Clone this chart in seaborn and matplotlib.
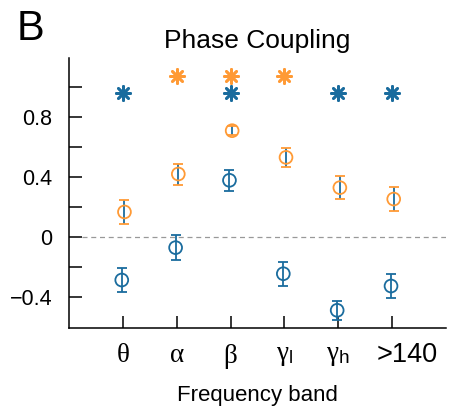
import numpy as np
import pandas as pd
import matplotlib
matplotlib.use('Agg')
import matplotlib.pyplot as plt
import matplotlib.transforms as mtransforms
import seaborn as sns

bands = [r'$\mathrm{\theta}$', r'$\mathrm{\alpha}$', r'$\mathrm{\beta}$',
         r'$\mathrm{\gamma}_{\mathsf{l}}$', r'$\mathrm{\gamma}_{\mathsf{h}}$', '>140']

blue_mean = [-0.287, -0.071, 0.378, -0.245, -0.489, -0.327]
blue_err = [0.077, 0.083, 0.072, 0.079, 0.064, 0.077]
orange_mean = [0.167, 0.420, 0.709, 0.531, 0.329, 0.253]
orange_err = [0.081, 0.070, 0.030, 0.062, 0.077, 0.081]

# significance flags drawn as asterisks above the data
blue_sig = [True, False, True, False, True, True]
orange_sig = [False, True, True, True, False, False]
blue_star_y = 0.958
orange_star_y = 1.073

blue = '#1a6c9e'
orange = '#ff9a35'

sns.set_style('ticks')
plt.rcParams['font.family'] = ['Liberation Sans', 'DejaVu Sans']
plt.rcParams['mathtext.fontset'] = 'custom'
plt.rcParams['mathtext.rm'] = 'Liberation Serif'
plt.rcParams['mathtext.it'] = 'Liberation Serif:italic'
plt.rcParams['mathtext.sf'] = 'Liberation Sans'
for k in ['text.color', 'axes.labelcolor', 'xtick.color', 'ytick.color', 'axes.edgecolor']:
    plt.rcParams[k] = 'black'

x = np.arange(1, len(bands) + 1)
df = pd.DataFrame({
    'x': np.concatenate([x - 0.02, x + 0.03]),
    'value': blue_mean + orange_mean,
    'err': blue_err + orange_err,
    'group': ['blue'] * len(x) + ['orange'] * len(x),
})

fig = plt.figure(figsize=(4.5, 4.18), dpi=100)
ax = fig.add_axes([0.1533, 0.2153, 0.8377, 0.6457])

pal = {'blue': blue, 'orange': orange}
for g, sub in df.groupby('group'):
    ax.errorbar(sub['x'], sub['value'], yerr=sub['err'], fmt='none',
                ecolor=pal[g], elinewidth=1.3, capsize=3.5, capthick=1.3, zorder=2)
sns.scatterplot(data=df, x='x', y='value', hue='group', palette=pal, ax=ax,
                marker='o', s=85, linewidth=1.3, legend=False, zorder=3)
# seaborn fills the markers; make circles hollow
for coll in ax.collections:
    coll.set_facecolor('none')
    coll.set_edgecolors([blue] * len(x) + [orange] * len(x))

bx = x[np.array(blue_sig)]
ox = x[np.array(orange_sig)]
ax.scatter(bx, [blue_star_y] * len(bx), marker=(8, 2, 0), s=105, color=blue, linewidth=1.9, zorder=3)
ax.scatter(ox, [orange_star_y] * len(ox), marker=(8, 2, 0), s=105, color=orange, linewidth=1.9, zorder=3)

ax.axhline(0, xmin=0.25 / 7, xmax=1, color='#999999', linestyle=(0, (4, 3)), linewidth=0.9, zorder=1)

ax.set_xlim(0, 7)
ax.set_ylim(-0.607, 1.193)
ax.set_xticks(x)
ax.set_xticklabels(bands, fontsize=19.5)
yt = [-0.4, -0.2, 0, 0.2, 0.4, 0.6, 0.8, 1.0]
ax.set_yticks(yt)
ax.set_yticklabels(['\u22120.4', '', '0', '', '0.4', '', '0.8', ''], fontsize=15.5)
ax.tick_params(axis='both', direction='in', length=9, width=1.1)
ax.tick_params(axis='x', pad=10)
ax.tick_params(axis='y', pad=12)
# the last band label sits a little right of its tick
last = ax.get_xticklabels()[-1]
last.set_transform(last.get_transform() + mtransforms.ScaledTranslation(15 / 100, 0, fig.dpi_scale_trans))
sns.despine(ax=ax)
for s in ['left', 'bottom']:
    ax.spines[s].set_linewidth(1.1)

ax.set_xlabel('Frequency band', fontsize=16, labelpad=10)
ax.set_ylabel('')
ax.set_title('Phase Coupling', fontsize=19, pad=7)
fig.text(0.036, 0.905, 'B', fontsize=30)

fig.savefig('out.png', dpi=100)
